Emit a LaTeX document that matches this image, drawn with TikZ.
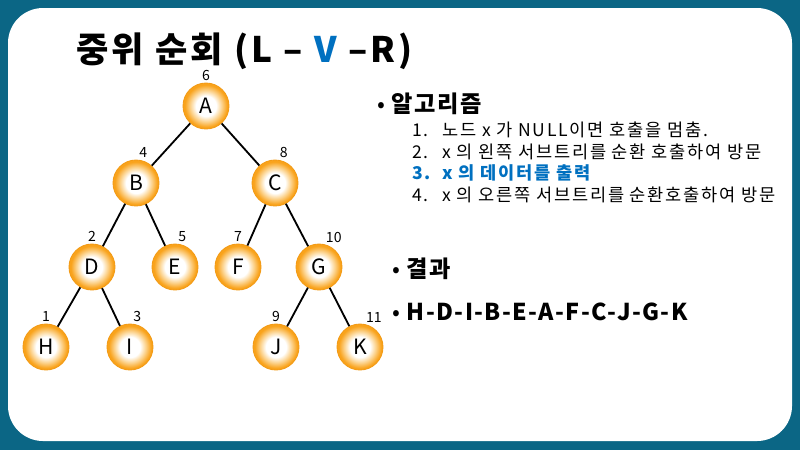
\documentclass[tikz,border=0pt]{standalone}
\usepackage{fontspec}
\setmainfont{Noto Sans CJK KR}
\usepackage{xcolor}

\definecolor{frame}{HTML}{0B6685}
\definecolor{orb}{HTML}{F9A31C}
\definecolor{orbmid}{HTML}{FCD38E}
\definecolor{orbline}{HTML}{F39A14}
\definecolor{vblue}{HTML}{0070C0}
\pgfdeclareradialshading{orbshade}{\pgfpoint{0bp}{0bp}}{color(0bp)=(white); color(11bp)=(white); color(17bp)=(orbmid); color(23bp)=(orb); color(25bp)=(orb); color(50bp)=(orb)}

\tikzset{
  vertex/.style={circle, draw=orbline, line width=0.6pt, shading=orbshade, minimum size=1.15cm, inner sep=0pt, font=\fontsize{15}{15}\selectfont},
  num/.style={font=\fontsize{10}{10}\selectfont, inner sep=1pt},
  edge/.style={line width=1.3pt},
  bigtext/.style={anchor=base west, inner sep=0pt, font=\bfseries\fontsize{16.5}{16.5}\selectfont\addfontfeatures{LetterSpace=6}},
  algline/.style={anchor=base west, inner sep=0pt, font=\fontsize{12.5}{12.5}\selectfont\addfontfeatures{LetterSpace=10}}
}

\begin{document}
\begin{tikzpicture}[x=0.025cm, y=-0.025cm]
        % Фон
        \fill[frame] (0,0) rectangle (800,450);
        \fill[white, rounded corners=0.875cm] (8,8) rectangle (792,441);
        % Заголовок
        \node[anchor=base west, inner sep=0pt, font=\bfseries\fontsize{25}{25}\selectfont\addfontfeatures{LetterSpace=9}] (title) at (76,62) {중위 순회 (L – {\color{vblue}V} –R)};
        % Вершины
        \foreach \i/\x/\y/\n/\a in {A/206/106/6/90, B/136/183/4/86, C/275/183/8/82, D/92/267/2/90, E/175/267/5/86,
                                    F/238/267/7/90, G/319/267/10/77, H/46/347/1/90, I/130/347/3/86, J/276/347/9/90, K/360/347/11/79} {
          \node[vertex, label={[num]\a:\n}] (\i) at (\x,\y) {\i};
        }
        % Рёбра
        \foreach \x/\y in {A/B, A/C, B/D, B/E, C/F, C/G, D/H, D/I, G/J, G/K} {
          \draw[edge] (\x) -- (\y);
        }
        % Алгоритм
        \node[bigtext] (alg) at (377,112) {{\mdseries•} 알고리즘};
        \node[algline] (alg1) at (412,136) {\makebox[0.75cm][l]{1.}노드 x 가 NULL이면 호출을 멈춤.};
        \node[algline] (alg2) at (412,158) {\makebox[0.75cm][l]{2.}x 의 왼쪽 서브트리를 순환 호출하여 방문};
        \node[algline, text=vblue, font=\bfseries\fontsize{12.5}{12.5}\selectfont\addfontfeatures{LetterSpace=10}] (alg3) at (412,179) {\makebox[0.75cm][l]{3.}x 의 데이터를 출력};
        \node[algline] (alg4) at (412,201) {\makebox[0.75cm][l]{4.}x 의 오른쪽 서브트리를 순환호출하여 방문};
        % Результат
        \node[bigtext] (res) at (392,277) {{\mdseries•} 결과};
        \node[bigtext] (order) at (392,320) {{\mdseries•} H-D-I-B-E-A-F-C-J-G-K};
\end{tikzpicture}
\end{document}
